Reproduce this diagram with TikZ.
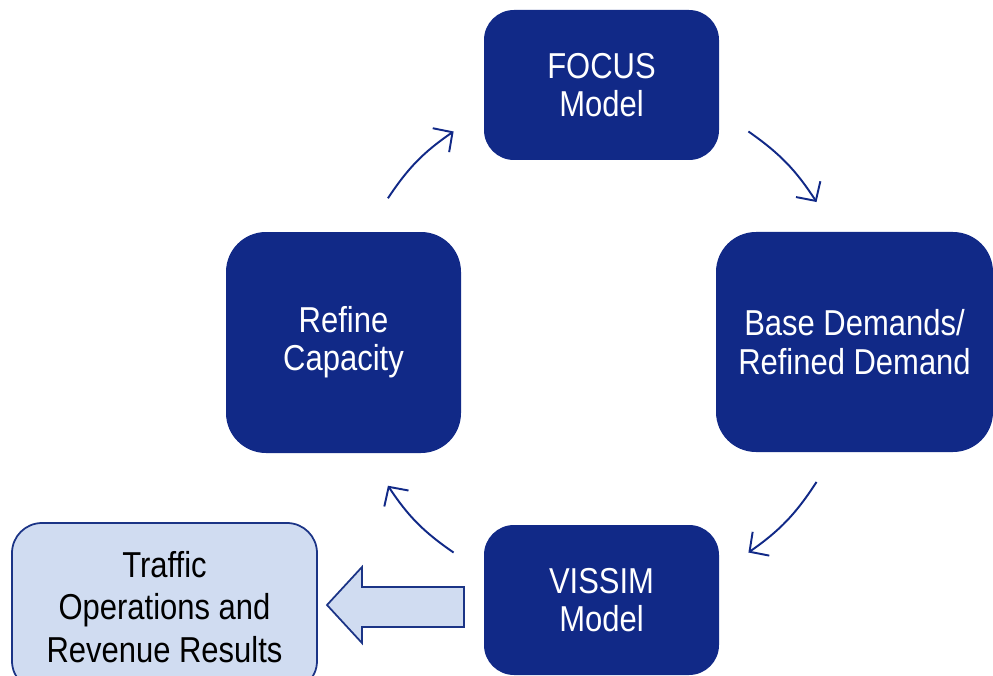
\documentclass[tikz,border=0pt]{standalone}
\usepackage{fontspec}
\setmainfont{Liberation Sans}[FakeStretch=0.86]
\usetikzlibrary{arrows.meta,calc}
\definecolor{stepblue}{HTML}{112987}
\definecolor{paleblue}{HTML}{D0DCF1}
\definecolor{edgeblue}{HTML}{1B3486}
\begin{document}
\begin{tikzpicture}
    [stage/.style={rectangle, rounded corners=0.6cm, fill=stepblue, text=white, align=center,
        font=\fontsize{20.5}{21.8}\selectfont},
     result/.style={rectangle, rounded corners=0.6cm, fill=paleblue, draw=edgeblue, line width=1pt,
        align=center, font=\fontsize{20.5}{24}\selectfont},
     flow/.style={draw=stepblue, line width=1.1pt, -{Straight Barb[length=2.8mm,width=5.8mm]}}]
    \useasboundingbox (0,0) rectangle (19.86,13.5);
    \clip (0,0) rectangle (19.86,13.5);
    %		\node[stage] (n0){FOCUS};
    \node[stage, minimum width=4.7cm, minimum height=3cm] (focus) at (12.03,11.8){FOCUS\\Model};
    \node[stage, minimum width=5.54cm, minimum height=4.4cm, rounded corners=0.8cm] (base) at (17.09,6.66){Base Demands/\\Refined Demand};
    \node[stage, minimum width=4.7cm, minimum height=3cm] (vissim) at (12.03,1.5){VISSIM\\Model};
    \node[stage, minimum width=4.7cm, minimum height=4.42cm, rounded corners=0.8cm] (refine) at (6.87,6.65){Refine\\Capacity};
    \node[result, minimum width=6.1cm, minimum height=3.36cm] (results) at (3.29,1.36){Traffic\\Operations and\\Revenue Results};
    \coordinate (hub) at (12.02,6.66);
    \coordinate (r1) at ($(hub)+(146:5.14)$);
    \coordinate (f1) at ($(hub)+(125:5.14)$);
    \coordinate (f2) at ($(hub)+(55:5.14)$);
    \coordinate (b1) at ($(hub)+(33:5.14)$);
    \coordinate (b2) at ($(hub)+(-33:5.14)$);
    \coordinate (v1) at ($(hub)+(-55:5.14)$);
    \coordinate (v2) at ($(hub)+(-125:5.14)$);
    \coordinate (r2) at ($(hub)+(-146:5.14)$);
    \draw[flow] (r1) to[bend left=11] (f1);
    \draw[flow] (f2) to[bend left=11] (b1);
    \draw[flow] (b2) to[bend left=11] (v1);
    \draw[flow] (v2) to[bend left=11] (r2);
    \draw[fill=paleblue, draw=edgeblue, line width=1pt, line join=miter]
        (6.54,1.40) -- (7.24,2.16) -- (7.24,1.76) -- (9.28,1.76) -- (9.28,0.96)
        -- (7.24,0.96) -- (7.24,0.64) -- cycle;
\end{tikzpicture}
\end{document}
